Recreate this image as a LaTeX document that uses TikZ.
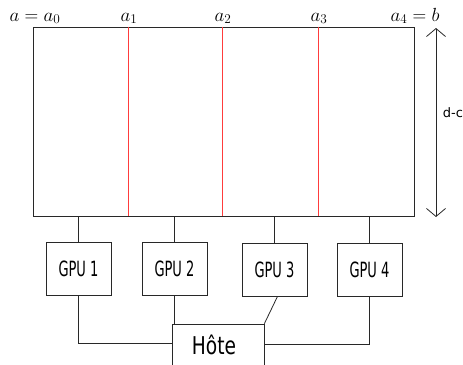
\RequirePackage{fix-cm}
\documentclass[tikz,border=0pt]{standalone}
\usepackage{graphicx}
\usepackage{fontspec}
\newfontfamily\dejavu{DejaVu Sans}
\usetikzlibrary{arrows.meta,calc}
\definecolor{linegray}{RGB}{40,40,40}
\definecolor{splitred}{RGB}{255,60,60}
\tikzset{
  wire/.style={draw=linegray,line width=0.8pt},
  gpubox/.style={draw=linegray,line width=0.8pt,minimum width=65pt,minimum height=53pt,inner sep=0pt,
     font=\dejavu\fontsize{21}{21}\selectfont},
  hostbox/.style={draw=linegray,line width=0.8pt,minimum width=92pt,minimum height=42pt,inner sep=0pt,
     font=\dejavu\fontsize{24.5}{25}\selectfont},
  alabel/.style={anchor=base,inner sep=0pt,font=\fontsize{19}{21}\selectfont},
  splitline/.style={draw=splitred,line width=1pt},
}
\begin{document}
\begin{tikzpicture}[x=1pt,y=-1pt]
\useasboundingbox (0,0) rectangle (463,364);
\clip (0,0) rectangle (463,364);
% domain
\node[draw=linegray,line width=0.8pt,minimum width=381pt,minimum height=189pt,inner sep=0pt] (dom) at (223.5,121.5) {};
\foreach \x in {128.5,222.5,318.5}{
  \draw[splitline] (dom.north -| \x,0) -- (dom.south -| \x,0);
}
% labels
\node[alabel] (l0) at (35,21) {$a=a_0$};
\node[alabel] (l1) at (129,21) {$a_1$};
\node[alabel] (l2) at (223,21) {$a_2$};
\node[alabel] (l3) at (319,21) {$a_3$};
\node[alabel] (l4) at (415,21) {$a_4=b$};
% height arrow
\coordinate (ht) at (436,28);
\coordinate (hb) at (436,217);
\draw[draw=linegray,line width=0.8pt,{Straight Barb[length=8pt,width=19pt]}-{Straight Barb[length=8pt,width=19pt]}] (ht) -- (hb);
\node[font=\dejavu\fontsize{13}{13}\selectfont,inner sep=0pt] (dc) at (453,113) {d-c};
% GPUs
\node[gpubox] (g1) at (78.5,268.5) {\scalebox{0.62}[1]{GPU 1}};
\node[gpubox] (g2) at (174.5,269) {\scalebox{0.62}[1]{GPU 2}};
\node[gpubox] (g3) at (274.5,269.5) {\scalebox{0.62}[1]{GPU 3}};
\node[gpubox] (g4) at (369.5,269.5) {\scalebox{0.62}[1]{GPU 4}};
% host
\node[hostbox] (host) at (218,345) {\kern-8pt\scalebox{0.76}[1]{Hôte}};
% domain to GPUs
\foreach \g in {g1,g2,g3,g4}{
  \draw[wire] (dom.south -| \g.north) -- (\g.north);
}
% GPUs to host
\draw[wire] (g1.south) -- (g1.south |- 0,343) -- (host.west |- 0,343);
\draw[wire] (g2.south) -- (g2.south |- host.north);
\draw[wire] ([xshift=3pt]g3.south) -- (host.north east);
\draw[wire] (g4.south) -- (g4.south |- 0,344) -- (host.east |- 0,344);
\end{tikzpicture}
\end{document}
